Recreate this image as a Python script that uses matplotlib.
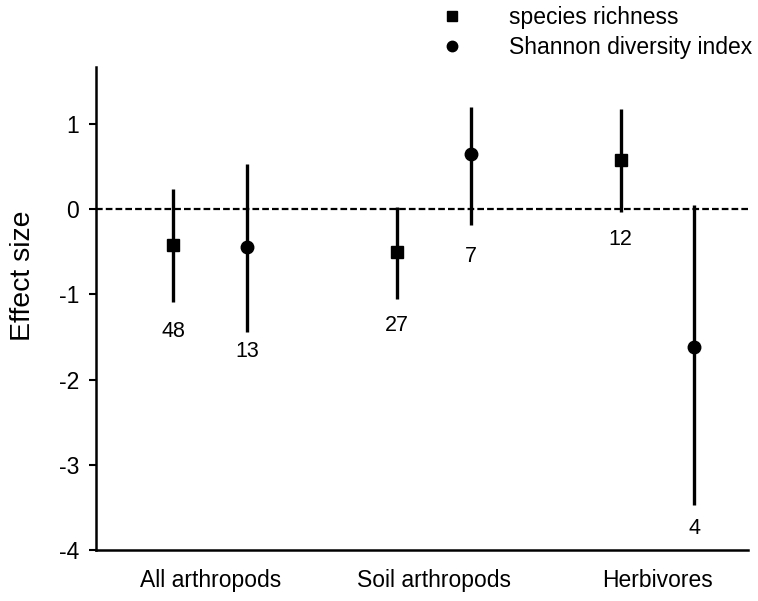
import matplotlib
matplotlib.use("Agg")
import matplotlib.pyplot as plt
from matplotlib.lines import Line2D
import numpy as np

plt.rcParams['font.family'] = ['Liberation Sans', 'DejaVu Sans']

categories = ["All arthropods", "Soil arthropods", "Herbivores"]
series_names = ["species richness", "Shannon diversity index"]

# species richness
rich_mean = [-0.42, -0.50, 0.58]
rich_low = [-1.09, -1.05, -0.03]
rich_high = [0.24, 0.03, 1.18]
rich_n = ["48", "27", "12"]
rich_label_y = [-1.44, -1.36, -0.35]

# Shannon diversity index
shan_mean = [-0.44, 0.65, -1.62]
shan_low = [-1.44, -0.19, -3.47]
shan_high = [0.53, 1.20, 0.05]
shan_n = ["13", "7", "4"]
shan_label_y = [-1.67, -0.55, -3.75]

yticks = [-4, -3, -2, -1, 0, 1]

fig = plt.figure(figsize=(7.58, 6.01), dpi=100)
ax = fig.add_axes([96/758, 1-550/601, (748-96)/758, (550-67)/601])

x = np.arange(1, len(categories) + 1)
off = 0.165

ax.axhline(0, color='black', lw=1.6, ls=(0, (3, 1.4)), zorder=1)

def draw(xpos, mean, low, high, marker, ms, labels, ly):
    mean = np.array(mean); low = np.array(low); high = np.array(high)
    yerr = [mean - low, high - mean]
    ax.errorbar(xpos, mean, yerr=yerr, fmt=marker, color='black', ms=ms,
                elinewidth=2.4, capsize=0, zorder=3)
    for xi, lab, yy in zip(xpos, labels, ly):
        ax.text(xi, yy, lab, ha='center', va='center', fontsize=15.5)

draw(x - off, rich_mean, rich_low, rich_high, 's', 8.5, rich_n, rich_label_y)
draw(x + off, shan_mean, shan_low, shan_high, 'o', 9, shan_n, shan_label_y)

ax.set_xlim(0.489, 3.405)
ax.set_ylim(-4, 1.67)
ax.set_yticks(yticks)
ax.set_yticklabels([str(t) for t in yticks])
ax.set_xticks(x)
ax.set_xticklabels(categories)
ax.tick_params(axis='x', length=0, pad=14, labelsize=16.5)
ax.tick_params(axis='y', length=5, width=1.5, pad=7, labelsize=16.5)
for s in ['top', 'right']:
    ax.spines[s].set_visible(False)
for s in ['left', 'bottom']:
    ax.spines[s].set_linewidth(1.8)
ax.set_ylabel("Effect size", fontsize=20.5)
ax.yaxis.set_label_coords(-0.092, 0.567)

handles = [Line2D([], [], marker='s', color='black', ls='none', ms=7.5),
           Line2D([], [], marker='o', color='black', ls='none', ms=7.5)]
fig.legend(handles, series_names, loc='upper left', bbox_to_anchor=(0.578, 0.993),
           frameon=False, fontsize=16.5, handlelength=1.0, handletextpad=2.0,
           labelspacing=0.3, borderpad=0.1, borderaxespad=0)

fig.savefig("out.png", dpi=100)
